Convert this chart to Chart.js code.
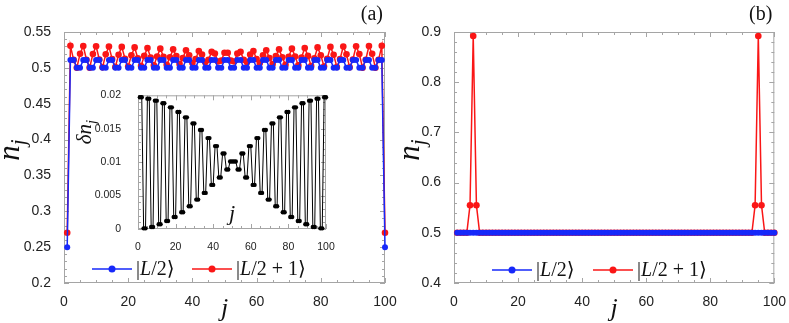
<!DOCTYPE html>
<html>
<head>
<meta charset="utf-8">
<script src="https://cdn.jsdelivr.net/npm/chart.js@4.4.0/dist/chart.umd.min.js"></script>
<style>
  body { margin: 0; background: #fff; }
  #wrap { position: relative; width: 789px; height: 323px; }
  canvas { position: absolute; }
  #chartA { left: 0; top: 0; }
  #chartB { left: 400px; top: 0; }
  #inset { left: 70px; top: 80px; }
</style>
</head>
<body>
<div id="wrap">
  <canvas id="chartA" width="400" height="323"></canvas>
  <canvas id="chartB" width="389" height="323"></canvas>
  <canvas id="inset" width="270" height="172"></canvas>
</div>
<script>
// site index j = 1..100
const sites = Array.from({ length: 100 }, (_, i) => i + 1);

// panel (a): occupation n_j of |L/2> and |L/2+1>
const nHalfA = [
  0.25, 0.511, 0.511, 0.5, 0.5, 0.511, 0.511, 0.5, 0.5, 0.511,
  0.511, 0.5, 0.5, 0.511, 0.511, 0.5, 0.5, 0.511, 0.511, 0.5,
  0.5, 0.511, 0.511, 0.5, 0.5, 0.511, 0.511, 0.5, 0.5, 0.511,
  0.511, 0.5, 0.5, 0.511, 0.511, 0.5, 0.5, 0.511, 0.511, 0.5,
  0.5, 0.511, 0.511, 0.5, 0.5, 0.511, 0.511, 0.5, 0.5, 0.511,
  0.511, 0.5, 0.5, 0.511, 0.511, 0.5, 0.5, 0.511, 0.511, 0.5,
  0.5, 0.511, 0.511, 0.5, 0.5, 0.511, 0.511, 0.5, 0.5, 0.511,
  0.511, 0.5, 0.5, 0.511, 0.511, 0.5, 0.5, 0.511, 0.511, 0.5,
  0.5, 0.511, 0.511, 0.5, 0.5, 0.511, 0.511, 0.5, 0.5, 0.511,
  0.511, 0.5, 0.5, 0.511, 0.511, 0.5, 0.5, 0.511, 0.511, 0.25
];
const nHalfPlusA = [
  0.27, 0.5307, 0.5111, 0.5001, 0.5195, 0.5305, 0.5113, 0.5003, 0.5192, 0.5302,
  0.5117, 0.5007, 0.5188, 0.5298, 0.5122, 0.5012, 0.5182, 0.5292, 0.5128, 0.5018,
  0.5175, 0.5285, 0.5135, 0.5025, 0.5167, 0.5277, 0.5144, 0.5034, 0.5158, 0.5268,
  0.5154, 0.5044, 0.5148, 0.5258, 0.5164, 0.5054, 0.5136, 0.5246, 0.5176, 0.5066,
  0.5124, 0.5234, 0.5187, 0.5077, 0.5113, 0.5223, 0.5199, 0.5089, 0.5101, 0.5211,
  0.5211, 0.5101, 0.5089, 0.5199, 0.5223, 0.5113, 0.5077, 0.5187, 0.5234, 0.5124,
  0.5066, 0.5176, 0.5246, 0.5136, 0.5054, 0.5164, 0.5258, 0.5148, 0.5044, 0.5154,
  0.5268, 0.5158, 0.5034, 0.5144, 0.5277, 0.5167, 0.5025, 0.5135, 0.5285, 0.5175,
  0.5018, 0.5128, 0.5292, 0.5182, 0.5012, 0.5122, 0.5298, 0.5188, 0.5007, 0.5117,
  0.5302, 0.5192, 0.5003, 0.5113, 0.5305, 0.5195, 0.5001, 0.5111, 0.5307, 0.27
];
// inset: delta n_j
const deltaN = [
  0.0197, 0.0197, 0.0001, 0.0001, 0.0195, 0.0195, 0.0003, 0.0003, 0.0192, 0.0192,
  0.0007, 0.0007, 0.0188, 0.0188, 0.0012, 0.0012, 0.0182, 0.0182, 0.0018, 0.0018,
  0.0175, 0.0175, 0.0025, 0.0025, 0.0167, 0.0167, 0.0034, 0.0034, 0.0158, 0.0158,
  0.0044, 0.0044, 0.0148, 0.0148, 0.0054, 0.0054, 0.0136, 0.0136, 0.0066, 0.0066,
  0.0124, 0.0124, 0.0077, 0.0077, 0.0113, 0.0113, 0.0089, 0.0089, 0.0101, 0.0101,
  0.0101, 0.0101, 0.0089, 0.0089, 0.0113, 0.0113, 0.0077, 0.0077, 0.0124, 0.0124,
  0.0066, 0.0066, 0.0136, 0.0136, 0.0054, 0.0054, 0.0148, 0.0148, 0.0044, 0.0044,
  0.0158, 0.0158, 0.0034, 0.0034, 0.0167, 0.0167, 0.0025, 0.0025, 0.0175, 0.0175,
  0.0018, 0.0018, 0.0182, 0.0182, 0.0012, 0.0012, 0.0188, 0.0188, 0.0007, 0.0007,
  0.0192, 0.0192, 0.0003, 0.0003, 0.0195, 0.0195, 0.0001, 0.0001, 0.0197, 0.0197
];

// panel (b)
const nHalfB = [
  0.5, 0.5, 0.5, 0.5, 0.5, 0.5, 0.5, 0.5, 0.5, 0.5,
  0.5, 0.5, 0.5, 0.5, 0.5, 0.5, 0.5, 0.5, 0.5, 0.5,
  0.5, 0.5, 0.5, 0.5, 0.5, 0.5, 0.5, 0.5, 0.5, 0.5,
  0.5, 0.5, 0.5, 0.5, 0.5, 0.5, 0.5, 0.5, 0.5, 0.5,
  0.5, 0.5, 0.5, 0.5, 0.5, 0.5, 0.5, 0.5, 0.5, 0.5,
  0.5, 0.5, 0.5, 0.5, 0.5, 0.5, 0.5, 0.5, 0.5, 0.5,
  0.5, 0.5, 0.5, 0.5, 0.5, 0.5, 0.5, 0.5, 0.5, 0.5,
  0.5, 0.5, 0.5, 0.5, 0.5, 0.5, 0.5, 0.5, 0.5, 0.5,
  0.5, 0.5, 0.5, 0.5, 0.5, 0.5, 0.5, 0.5, 0.5, 0.5,
  0.5, 0.5, 0.5, 0.5, 0.5, 0.5, 0.5, 0.5, 0.5, 0.5
];
const nHalfPlusB = [
  0.5, 0.5, 0.5, 0.5, 0.555, 0.892, 0.555, 0.5, 0.5, 0.5,
  0.5, 0.5, 0.5, 0.5, 0.5, 0.5, 0.5, 0.5, 0.5, 0.5,
  0.5, 0.5, 0.5, 0.5, 0.5, 0.5, 0.5, 0.5, 0.5, 0.5,
  0.5, 0.5, 0.5, 0.5, 0.5, 0.5, 0.5, 0.5, 0.5, 0.5,
  0.5, 0.5, 0.5, 0.5, 0.5, 0.5, 0.5, 0.5, 0.5, 0.5,
  0.5, 0.5, 0.5, 0.5, 0.5, 0.5, 0.5, 0.5, 0.5, 0.5,
  0.5, 0.5, 0.5, 0.5, 0.5, 0.5, 0.5, 0.5, 0.5, 0.5,
  0.5, 0.5, 0.5, 0.5, 0.5, 0.5, 0.5, 0.5, 0.5, 0.5,
  0.5, 0.5, 0.5, 0.5, 0.5, 0.5, 0.5, 0.5, 0.5, 0.5,
  0.5, 0.5, 0.5, 0.555, 0.892, 0.555, 0.5, 0.5, 0.5, 0.5
];

const xTicks = [0, 20, 40, 60, 80, 100];
const yTicksA = [0.2, 0.25, 0.3, 0.35, 0.4, 0.45, 0.5, 0.55];
const yTicksB = [0.4, 0.5, 0.6, 0.7, 0.8, 0.9];
const yTicksInset = [0, 0.005, 0.01, 0.015, 0.02];

const BLUE = "rgb(22,40,250)";
const RED = "rgb(250,22,22)";
const FRAME = "rgb(165,165,165)";
const SERIF = "'Liberation Serif', 'DejaVu Serif', serif";

Chart.defaults.font.family = "'Liberation Sans', Arial, sans-serif";

// draw a row of text pieces with their own fonts
function drawRuns(ctx, runs, x, y, align) {
  let total = 0;
  runs.forEach(r => { ctx.font = r.font; total += ctx.measureText(r.text).width; });
  let cx = align === "center" ? x - total / 2 : x;
  runs.forEach(r => {
    ctx.font = r.font;
    ctx.fillText(r.text, cx, y + (r.dy || 0));
    cx += ctx.measureText(r.text).width;
  });
}

// frame with inward ticks on all four sides
const framePlugin = {
  id: "frame",
  beforeDatasetsDraw(chart, args, opts) {
    const { ctx, chartArea: a } = chart;
    const xs = chart.scales.x, ys = chart.scales.y;
    ctx.save();
    ctx.strokeStyle = FRAME;
    ctx.lineWidth = 1;
    ctx.strokeRect(a.left + 0.5, a.top + 0.5, a.right - a.left - 1, a.bottom - a.top - 1);
    ctx.beginPath();
    const nx = Math.round((xs.max - xs.min) / opts.xMinor);
    for (let i = 0; i <= nx; i++) {
      const v = xs.min + i * opts.xMinor;
      const q = v / opts.xMajor;
      const len = Math.abs(q - Math.round(q)) < 1e-6 ? 5 : 3;
      const px = Math.round(xs.getPixelForValue(v)) + 0.5;
      ctx.moveTo(px, a.bottom); ctx.lineTo(px, a.bottom - len);
      ctx.moveTo(px, a.top); ctx.lineTo(px, a.top + len);
    }
    const ny = Math.round((ys.max - ys.min) / opts.yMinor);
    for (let i = 0; i <= ny; i++) {
      const v = ys.min + i * opts.yMinor;
      const q = v / opts.yMajor;
      const len = Math.abs(q - Math.round(q)) < 1e-6 ? 5 : 3;
      const py = Math.round(ys.getPixelForValue(v)) + 0.5;
      ctx.moveTo(a.left, py); ctx.lineTo(a.left + len, py);
      ctx.moveTo(a.right, py); ctx.lineTo(a.right - len, py);
    }
    ctx.stroke();
    ctx.restore();
  }
};

// axis titles, panel letter and legend
const decoPlugin = {
  id: "deco",
  afterDraw(chart, args, opts) {
    const { ctx, chartArea: a } = chart;
    ctx.save();
    ctx.fillStyle = "#111";
    ctx.textBaseline = "alphabetic";
    // x title
    drawRuns(ctx, [{ text: "j", font: "italic " + opts.xTitleSize + "px " + SERIF }],
      (a.left + a.right) / 2, opts.xTitleY, "center");
    // y title rotated
    ctx.save();
    ctx.translate(opts.yTitleX, opts.yTitleY);
    ctx.rotate(-Math.PI / 2);
    drawRuns(ctx, opts.yTitle, 0, 0, "center");
    ctx.restore();
    if (opts.letter) {
      ctx.font = "20px " + SERIF;
      ctx.textAlign = "right";
      ctx.fillText(opts.letter, a.right - 2, 20);
      ctx.textAlign = "left";
    }
    if (opts.legend) {
      const ly = opts.legend.y;
      const items = [
        { color: BLUE, x: opts.legend.x1, runs: [
          { text: "|", font: "20px " + SERIF },
          { text: "L", font: "italic 20px " + SERIF },
          { text: "/2\u27E9", font: "20px " + SERIF }] },
        { color: RED, x: opts.legend.x2, runs: [
          { text: "|", font: "20px " + SERIF },
          { text: "L", font: "italic 20px " + SERIF },
          { text: "/2 + 1\u27E9", font: "20px " + SERIF }] }
      ];
      items.forEach(it => {
        ctx.strokeStyle = it.color;
        ctx.fillStyle = it.color;
        ctx.lineWidth = 1.5;
        ctx.beginPath();
        ctx.moveTo(it.x, ly); ctx.lineTo(it.x + 40, ly);
        ctx.stroke();
        ctx.beginPath();
        ctx.arc(it.x + 20, ly, 3.5, 0, Math.PI * 2);
        ctx.fill();
        ctx.fillStyle = "#111";
        drawRuns(ctx, it.runs, it.x + 44, ly + 6, "left");
      });
    }
    ctx.restore();
  }
};

function fmt(v) { return String(parseFloat(v.toFixed(4))); }

function series(values, color, order, radius, width) {
  return {
    data: sites.map((j, i) => ({ x: j, y: values[i] })),
    borderColor: color,
    backgroundColor: color,
    pointBackgroundColor: color,
    pointBorderWidth: 0,
    pointRadius: radius,
    borderWidth: width,
    tension: 0,
    order: order,
    clip: false
  };
}

function makeConfig(datasets, o) {
  return {
    type: "line",
    data: { datasets: datasets },
    options: {
      responsive: false,
      animation: false,
      layout: { padding: o.padding },
      plugins: {
        legend: { display: false },
        tooltip: { enabled: false },
        frame: o.frame,
        deco: o.deco
      },
      scales: {
        x: {
          type: "linear", min: 0, max: 100,
          afterFit: s => { s.height = o.xHeight; },
          afterBuildTicks: s => { s.ticks = xTicks.map(v => ({ value: v })); },
          grid: { display: false }, border: { display: false },
          ticks: { padding: o.xPad, color: "#222", maxRotation: 0, font: { size: o.fontSize }, callback: v => fmt(v) }
        },
        y: {
          type: "linear", min: o.yTicks[0], max: o.yTicks[o.yTicks.length - 1],
          afterFit: s => { s.width = o.yWidth; },
          afterBuildTicks: s => { s.ticks = o.yTicks.map(v => ({ value: v })); },
          grid: { display: false }, border: { display: false },
          ticks: { padding: o.yPad, color: "#222", font: { size: o.fontSize }, callback: v => fmt(v) }
        }
      }
    },
    plugins: [framePlugin, decoPlugin]
  };
}

new Chart(document.getElementById("chartA"), makeConfig(
  [series(nHalfA, BLUE, 0, 3, 1.5), series(nHalfPlusA, RED, 1, 3.3, 1.5)],
  {
    padding: { top: 32, right: 15, left: 0, bottom: 0 },
    xHeight: 40, yWidth: 64, xPad: 3, yPad: 5, fontSize: 14,
    yTicks: yTicksA,
    frame: { xMajor: 20, xMinor: 5, yMajor: 0.05, yMinor: 0.01 },
    deco: {
      xTitleSize: 26, xTitleY: 316,
      yTitleX: 19, yTitleY: 150,
      yTitle: [{ text: "n", font: "italic 31px " + SERIF }, { text: "j", font: "italic 21px " + SERIF, dy: 6 }],
      letter: "(a)",
      legend: { y: 269, x1: 92, x2: 192 }
    }
  }
));

new Chart(document.getElementById("chartB"), makeConfig(
  [series(nHalfB, BLUE, 0, 3, 1.5), series(nHalfPlusB, RED, 1, 3.3, 1.5)],
  {
    padding: { top: 32, right: 14, left: 0, bottom: 0 },
    xHeight: 40, yWidth: 54, xPad: 3, yPad: 5, fontSize: 14,
    yTicks: yTicksB,
    frame: { xMajor: 20, xMinor: 5, yMajor: 0.1, yMinor: 0.02 },
    deco: {
      xTitleSize: 26, xTitleY: 316,
      yTitleX: 19, yTitleY: 150,
      yTitle: [{ text: "n", font: "italic 31px " + SERIF }, { text: "j", font: "italic 21px " + SERIF, dy: 6 }],
      letter: "(b)",
      legend: { y: 270, x1: 92, x2: 193 }
    }
  }
));

new Chart(document.getElementById("inset"), makeConfig(
  [series(deltaN, "#000", 0, 2.2, 1)],
  {
    padding: { top: 10, right: 14, left: 0, bottom: 0 },
    xHeight: 23, yWidth: 68, xPad: 4, yPad: 9, fontSize: 10.5,
    yTicks: yTicksInset,
    frame: { xMajor: 20, xMinor: 5, yMajor: 0.005, yMinor: 0.001 },
    deco: {
      xTitleSize: 22, xTitleY: 140,
      yTitleX: 21, yTitleY: 52,
      yTitle: [{ text: "\u03B4n", font: "italic 21px " + SERIF }, { text: "j", font: "italic 15px " + SERIF, dy: 5 }]
    }
  }
));
</script>
</body>
</html>
